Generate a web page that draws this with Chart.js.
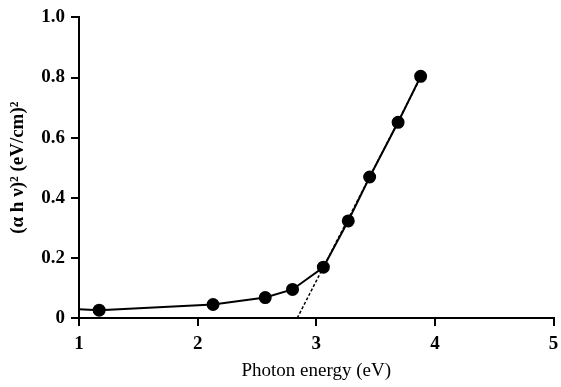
<!DOCTYPE html>
<html>
<head>
<meta charset="utf-8">
<script src="https://cdn.jsdelivr.net/npm/chart.js@4/dist/chart.umd.min.js"></script>
<style>
  body { margin: 0; background: #fff; }
  #wrap { width: 561px; height: 387px; }
</style>
</head>
<body>
<div id="wrap"><canvas id="plot"></canvas></div>
<script>
// measured points (photon energy, (a h v)^2)
var energy = [1.0, 1.17, 2.13, 2.57, 2.80, 3.06, 3.27, 3.45, 3.69, 3.88];
var absorb = [0.029, 0.026, 0.045, 0.068, 0.095, 0.169, 0.323, 0.469, 0.651, 0.804];
// first entry is only where the line leaves the axis, no marker
var markerSize = [0, 5.5, 5.5, 5.5, 5.5, 5.5, 5.5, 5.5, 5.5, 5.5];

// linear fit extrapolated to the x axis
var fitX = [2.84, 3.88];
var fitY = [0, 0.80];

var xTicks = [1, 2, 3, 4, 5];
var yTicks = [0, 0.2, 0.4, 0.6, 0.8, 1.0];

var pts = energy.map(function (x, i) { return {x: x, y: absorb[i]}; });
var fit = fitX.map(function (x, i) { return {x: x, y: fitY[i]}; });

var serif = '"Liberation Serif", "Times New Roman", serif';

var ctx = document.getElementById('plot').getContext('2d');
var chart = new Chart(ctx, {
  type: 'scatter',
  data: {
    datasets: [{
      data: pts,
      showLine: true,
      borderColor: '#000',
      backgroundColor: '#000',
      borderWidth: 2,
      pointRadius: markerSize,
      pointHoverRadius: markerSize,
      tension: 0,
      order: 1
    }, {
      data: fit,
      showLine: true,
      borderColor: '#000',
      borderWidth: 1.5,
      borderDash: [3, 2],
      pointRadius: 0,
      order: 2
    }]
  },
  options: {
    responsive: true,
    maintainAspectRatio: false,
    animation: false,
    layout: { padding: { top: 15, right: 0, left: 0, bottom: 0 } },
    plugins: { legend: { display: false }, tooltip: { enabled: false } },
    scales: {
      x: {
        type: 'linear',
        min: 1, max: 5,
        afterBuildTicks: function (s) { s.ticks = xTicks.map(function (v) { return {value: v}; }); },
        afterFit: function (s) { s.height = 69; s.paddingRight = 7; },
        grid: { drawOnChartArea: false, drawTicks: true, tickLength: 8, color: '#000', lineWidth: 2 },
        border: { display: true, color: '#000', width: 2 },
        ticks: {
          color: '#000', padding: 7, maxRotation: 0,
          font: { family: serif, size: 19, weight: 'bold' }
        },
        title: {
          display: true, text: 'Photon energy (eV)', color: '#000',
          padding: { top: 0, bottom: 5 },
          font: { family: serif, size: 19 }
        }
      },
      y: {
        min: 0, max: 1.0,
        afterBuildTicks: function (s) { s.ticks = yTicks.map(function (v) { return {value: v}; }); },
        afterFit: function (s) { s.width = 79; },
        grid: { drawOnChartArea: false, drawTicks: true, tickLength: 8, color: '#000', lineWidth: 2 },
        border: { display: true, color: '#000', width: 2 },
        ticks: {
          color: '#000', padding: 6,
          font: { family: serif, size: 19, weight: 'bold' },
          callback: function (v) { return v === 0 ? '0' : v.toFixed(1); }
        },
        title: {
          display: true, text: '(α h ν)² (eV/cm)²', color: '#000',
          padding: { top: 7, bottom: 0 },
          font: { family: serif, size: 19, weight: 'bold' }
        }
      }
    }
  }
});
</script>
</body>
</html>
